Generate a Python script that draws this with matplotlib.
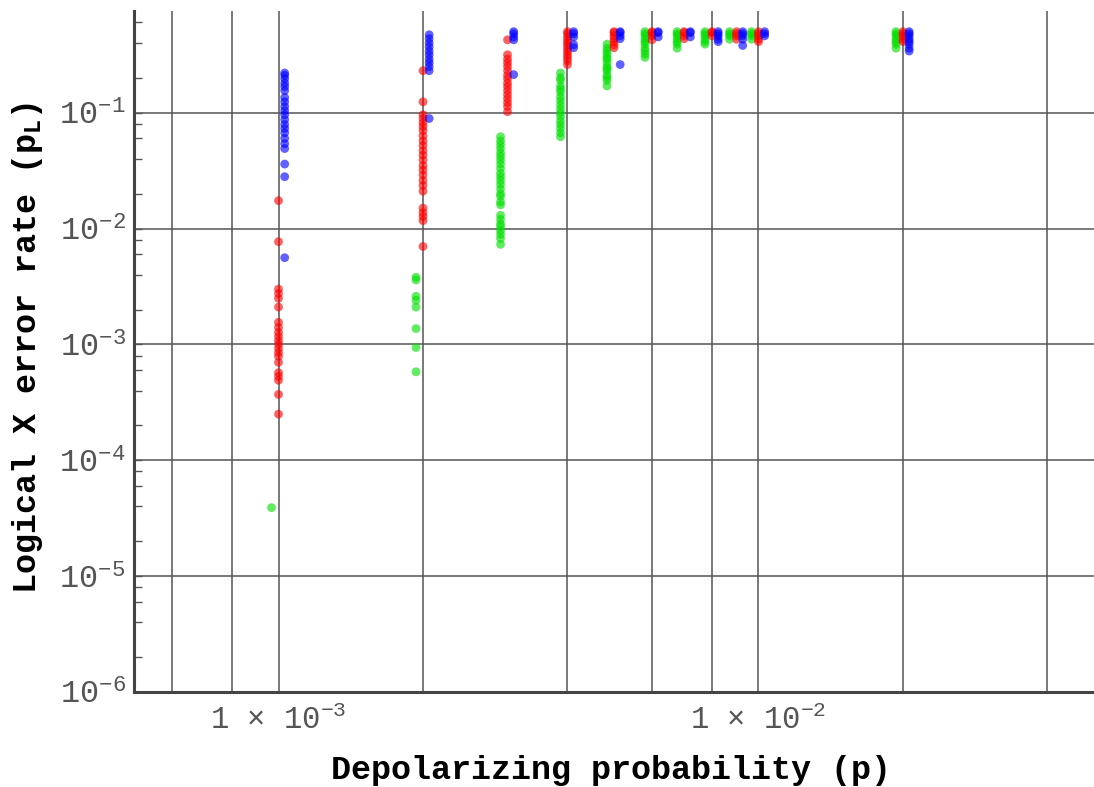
import numpy as np
import matplotlib
matplotlib.use('Agg')
import matplotlib.pyplot as plt
from matplotlib.ticker import LogLocator, FuncFormatter, NullFormatter

# depolarizing probabilities that were simulated
p_values = [1e-3, 2e-3, 3e-3, 4e-3, 5e-3, 6e-3, 7e-3, 8e-3, 9e-3, 1e-2, 2e-2]

# logical X error rates per p (one list per p value)
green_rates = [
    [3.9e-5],
    [0.0038, 0.0036, 0.0026, 0.0024, 0.0021, 0.00137, 0.00094, 0.00058],
    [0.062, 0.057, 0.053, 0.049, 0.045, 0.042, 0.039, 0.036, 0.033, 0.030,
     0.028, 0.026, 0.024, 0.022, 0.020, 0.019, 0.017, 0.016, 0.013, 0.012,
     0.011, 0.0104, 0.0096, 0.0089, 0.0082, 0.0073],
    [0.22, 0.20, 0.19, 0.17, 0.16, 0.15, 0.137, 0.127, 0.117, 0.108, 0.100,
     0.093, 0.085, 0.079, 0.073, 0.067, 0.062],
    [0.39, 0.36, 0.34, 0.32, 0.30, 0.29, 0.27, 0.25, 0.24, 0.23, 0.21, 0.20,
     0.19, 0.17],
    [0.50, 0.48, 0.46, 0.43, 0.41, 0.39, 0.36, 0.34, 0.32, 0.30],
    [0.50, 0.48, 0.46, 0.43, 0.41, 0.39, 0.36],
    [0.50, 0.48, 0.46, 0.43, 0.41, 0.39],
    [0.50, 0.48, 0.46, 0.43],
    [0.50, 0.48, 0.46, 0.43],
    [0.50, 0.48, 0.46, 0.43, 0.41, 0.39, 0.36],
]

red_rates = [
    [0.0174, 0.0077, 0.0030, 0.00275, 0.0025, 0.0021, 0.00155, 0.0014,
     0.00127, 0.00117, 0.00108, 0.0010, 0.00092, 0.00085, 0.00079, 0.0007,
     0.00057, 0.00053, 0.00049, 0.00037, 0.00025],
    [0.23, 0.124, 0.096, 0.089, 0.082, 0.076, 0.070, 0.063, 0.057, 0.052,
     0.047, 0.043, 0.039, 0.035, 0.032, 0.029, 0.026, 0.0235, 0.021, 0.015,
     0.0137, 0.0127, 0.0117, 0.0070],
    [0.425, 0.316, 0.29, 0.27, 0.25, 0.23, 0.21, 0.196, 0.18, 0.168, 0.155,
     0.143, 0.132, 0.122, 0.113, 0.102],
    [0.50, 0.48, 0.45, 0.425, 0.40, 0.38, 0.356, 0.336, 0.316, 0.298, 0.28,
     0.26],
    [0.50, 0.49, 0.46, 0.435, 0.41, 0.386, 0.363],
    [0.50, 0.49, 0.46, 0.425],
    [0.50, 0.49, 0.46, 0.435],
    [0.50, 0.49, 0.46],
    [0.50, 0.48, 0.46, 0.43],
    [0.50, 0.48, 0.46, 0.43, 0.41],
    [0.50, 0.48, 0.46, 0.43, 0.41],
]

blue_rates = [
    [0.22, 0.21, 0.196, 0.18, 0.168, 0.155, 0.135, 0.124, 0.113, 0.104, 0.096,
     0.087, 0.079, 0.073, 0.067, 0.060, 0.054, 0.049, 0.036, 0.028, 0.0056],
    [0.47, 0.435, 0.40, 0.37, 0.34, 0.316, 0.29, 0.27, 0.25, 0.23, 0.089],
    [0.50, 0.48, 0.45, 0.425, 0.213],
    [0.50, 0.48, 0.45, 0.386, 0.363],
    [0.50, 0.49, 0.46, 0.435, 0.26],
    [0.50, 0.49, 0.45],
    [0.50, 0.49, 0.45],
    [0.50, 0.48, 0.46, 0.43, 0.41],
    [0.50, 0.48, 0.46, 0.43, 0.38],
    [0.50, 0.48, 0.46],
    [0.50, 0.48, 0.46, 0.43, 0.41, 0.39, 0.36, 0.34],
]

plt.rcParams['font.family'] = ['Liberation Mono', 'DejaVu Sans Mono']
plt.rcParams['mathtext.fontset'] = 'custom'
plt.rcParams['mathtext.rm'] = 'Liberation Mono'
plt.rcParams['mathtext.it'] = 'Liberation Mono'
plt.rcParams['mathtext.bf'] = 'Liberation Mono:bold'

fig = plt.figure(figsize=(10.94, 7.87), dpi=100)
ax = fig.add_axes([0.1225, 0.1207, 0.8775, 0.865])

# small horizontal shift so the three series don't sit on top of each other
series = [(green_rates, '#00e000', 0.967),
          (red_rates, '#ff0000', 1.0),
          (blue_rates, '#0000ff', 1.03)]
for rates, col, shift in series:
    xs, ys = [], []
    for p, vals in zip(p_values, rates):
        xs += [p * shift] * len(vals)
        ys += vals
    ax.scatter(xs, ys, s=40, color=col, alpha=0.62, edgecolors='none', zorder=3)

ax.set_xscale('log')
ax.set_yscale('log')
ax.set_xlim(5e-4, 5e-2)
ax.set_ylim(1e-6, 0.75)

ax.xaxis.set_major_locator(LogLocator(base=10))
ax.xaxis.set_minor_locator(LogLocator(base=10, subs=(2, 4, 6, 8)))
ax.xaxis.set_major_formatter(FuncFormatter(
    lambda v, pos: '1 \u00d7 10$^{%d}$' % int(round(np.log10(v)))))
ax.xaxis.set_minor_formatter(NullFormatter())
ax.yaxis.set_major_locator(LogLocator(base=10, numticks=10))
ax.yaxis.set_minor_locator(LogLocator(base=10, subs=(2, 4, 6, 8), numticks=10))
ax.yaxis.set_major_formatter(FuncFormatter(
    lambda v, pos: '10$^{%d}$' % int(round(np.log10(v)))))
ax.yaxis.set_minor_formatter(NullFormatter())

ax.grid(True, which='both', axis='x', color='#555555', linewidth=1.1)
ax.grid(True, which='major', axis='y', color='#555555', linewidth=1.1)
ax.set_axisbelow(True)

for side in ['top', 'right']:
    ax.spines[side].set_visible(False)
for side in ['left', 'bottom']:
    ax.spines[side].set_color('#444444')
    ax.spines[side].set_linewidth(2.2)

ax.tick_params(axis='x', which='both', length=0, pad=10,
               labelsize=22, labelcolor='#555555')
ax.tick_params(axis='y', which='both', direction='in', length=6,
               width=1, color='#555555', labelsize=23, labelcolor='#555555',
               pad=6)

ax.set_xlabel('Depolarizing probability (p)', fontsize=24, fontweight='bold')
ax.set_ylabel(r'Logical X error rate (p$_{\mathbf{L}}$)', fontsize=24,
              fontweight='bold')
ax.xaxis.set_label_coords(0.497, -0.093)
ax.yaxis.set_label_coords(-0.093, 0.505)

plt.savefig('out.png', dpi=100)
